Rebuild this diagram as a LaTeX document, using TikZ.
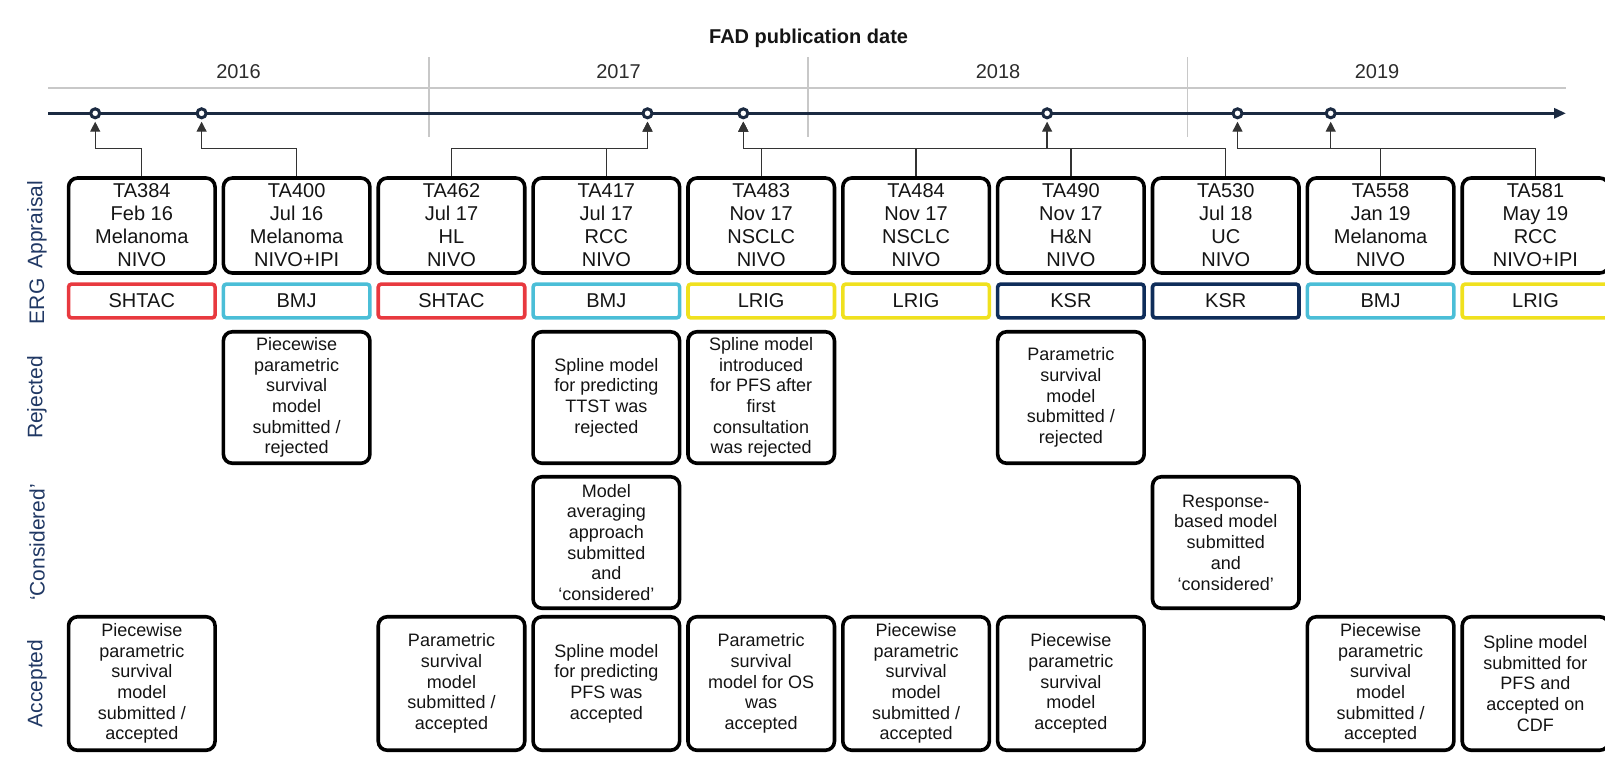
\documentclass[tikz,border=0pt]{standalone}
\usepackage{fontspec}
\setmainfont{Liberation Sans}
\usepackage{tikz}
\usetikzlibrary{positioning,calc,arrows.meta}
\usepackage{xcolor}
\definecolor{navyline}{HTML}{1B2A41}
\definecolor{labelnavy}{HTML}{203864}
\definecolor{gridgray}{HTML}{C8C8C8}
\definecolor{txt}{HTML}{141414}
\definecolor{shtac}{HTML}{E8393F}
\definecolor{bmj}{HTML}{4BBED7}
\definecolor{lrig}{HTML}{F0E11E}
\definecolor{ksr}{HTML}{0F2D5A}

\begin{document}
\begin{tikzpicture}[
    x=1pt, y=-1pt,
    appbox/.style={rectangle, draw=black, line width=3.6pt, rounded corners=9pt, minimum width=146.5pt, minimum height=95pt, inner sep=1pt, align=center, text=txt, font=\fontsize{20}{23}\selectfont},
    ergbox/.style={rectangle, line width=3.6pt, rounded corners=3pt, minimum width=146.5pt, minimum height=33.8pt, inner sep=1pt, align=center, text=txt, font=\fontsize{20}{23}\selectfont},
    modelbox/.style={rectangle, draw=black, line width=3.6pt, rounded corners=9pt, minimum width=146.5pt, minimum height=131.5pt, inner sep=1pt, align=center, text=txt, font=\fontsize{18}{20.7}\selectfont},
    rowlabel/.style={rotate=90, text=labelnavy, font=\fontsize{21}{24}\selectfont},
    yearlabel/.style={text=txt!90, font=\fontsize{20}{24}\selectfont},
    dot/.style={circle, draw=navyline, fill=white, line width=3pt, inner sep=0pt, minimum size=9pt},
    tline/.style={-{Triangle[length=12pt,width=10pt]}, line width=3pt, color=navyline},
    gridline/.style={line width=2pt, color=gridgray},
    link/.style={-{Triangle[length=10pt,width=10pt]}, line width=1.3pt, color=black!80, shorten >=2.4pt}
]
\useasboundingbox (0,0) rectangle (1605,756);

% Year axis
\node[font=\bfseries\fontsize{20}{24}\selectfont, text=txt] (title) at (808.6,38) {FAD publication date};
\draw[gridline] (48,88) -- (1566,88);
\draw[gridline, line width=1.5pt] (429,57) -- (429,137);
\draw[gridline, line width=1.5pt] (808,57) -- (808,137);
\draw[gridline, line width=1.5pt] (1187.5,57) -- (1187.5,137);
\node[yearlabel] (y2016) at (238.5,71.7) {2016};
\node[yearlabel] (y2017) at (618.5,71.7) {2017};
\node[yearlabel] (y2018) at (998,71.7) {2018};
\node[yearlabel] (y2019) at (1377,71.7) {2019};

% Timeline and markers
\coordinate (tstart) at (48,113.3);
\coordinate (tend) at (1566,113.3);
\coordinate (bus) at (0,148.3);
\draw[tline] (tstart) -- (tend);
\node[dot] (m1) at (95.2,113.3) {};
\node[dot] (m2) at (201.6,113.3) {};
\node[dot] (m3) at (647.5,113.3) {};
\node[dot] (m4) at (743.3,113.3) {};
\node[dot] (m5) at (1047.1,113.3) {};
\node[dot] (m6) at (1237.5,113.3) {};
\node[dot] (m7) at (1330.7,113.3) {};

% Row labels
\node[rowlabel] (lblapp) at (37,224.7) {Appraisal};
\node[rowlabel] (lblerg) at (37,301.3) {ERG};
\node[rowlabel] (lblrej) at (37,397.5) {Rejected};
\node[rowlabel] (lblcon) at (37,542.5) {`Considered'};
\node[rowlabel] (lblacc) at (37,683.5) {Accepted};
\coordinate (rowrej) at (0,397.5);
\coordinate (rowcon) at (0,542.5);
\coordinate (rowacc) at (0,683.5);

% Appraisal boxes
\node[appbox] (app384) at (141.8,225.5) {TA384\\Feb 16\\Melanoma\\NIVO};
\node[appbox, right=4.75pt of app384] (app400) {TA400\\Jul 16\\Melanoma\\NIVO+IPI};
\node[appbox, right=4.75pt of app400] (app462) {TA462\\Jul 17\\HL\\NIVO};
\node[appbox, right=4.75pt of app462] (app417) {TA417\\Jul 17\\RCC\\NIVO};
\node[appbox, right=4.75pt of app417] (app483) {TA483\\Nov 17\\NSCLC\\NIVO};
\node[appbox, right=4.75pt of app483] (app484) {TA484\\Nov 17\\NSCLC\\NIVO};
\node[appbox, right=4.75pt of app484] (app490) {TA490\\Nov 17\\H\&N\\NIVO};
\node[appbox, right=4.75pt of app490] (app530) {TA530\\Jul 18\\UC\\NIVO};
\node[appbox, right=4.75pt of app530] (app558) {TA558\\Jan 19\\Melanoma\\NIVO};
\node[appbox, right=4.75pt of app558] (app581) {TA581\\May 19\\RCC\\NIVO+IPI};

% ERG boxes
\node[ergbox, draw=shtac, below=7.5pt of app384] (erg384) {SHTAC};
\node[ergbox, draw=bmj, below=7.5pt of app400] (erg400) {BMJ};
\node[ergbox, draw=shtac, below=7.5pt of app462] (erg462) {SHTAC};
\node[ergbox, draw=bmj, below=7.5pt of app417] (erg417) {BMJ};
\node[ergbox, draw=lrig, below=7.5pt of app483] (erg483) {LRIG};
\node[ergbox, draw=lrig, below=7.5pt of app484] (erg484) {LRIG};
\node[ergbox, draw=ksr, below=7.5pt of app490] (erg490) {KSR};
\node[ergbox, draw=ksr, below=7.5pt of app530] (erg530) {KSR};
\node[ergbox, draw=bmj, below=7.5pt of app558] (erg558) {BMJ};
\node[ergbox, draw=lrig, below=7.5pt of app581] (erg581) {LRIG};

% Rejected
\node[modelbox] (rej400) at (app400 |- rowrej) {Piecewise\\parametric\\survival\\model\\submitted /\\rejected};
\node[modelbox] (rej417) at (app417 |- rowrej) {Spline model\\for predicting\\TTST was\\rejected};
\node[modelbox] (rej483) at (app483 |- rowrej) {Spline model\\introduced\\for PFS after\\first\\consultation\\was rejected};
\node[modelbox] (rej490) at (app490 |- rowrej) {Parametric\\survival\\model\\submitted /\\rejected};

% Considered
\node[modelbox] (con417) at (app417 |- rowcon) {Model\\averaging\\approach\\submitted\\and\\`considered'};
\node[modelbox] (con530) at (app530 |- rowcon) {Response-\\based model\\submitted\\and\\`considered'};

% Accepted
\node[modelbox, minimum height=133.5pt] (acc384) at (app384 |- rowacc) {Piecewise\\parametric\\survival\\model\\submitted /\\accepted};
\node[modelbox, minimum height=133.5pt] (acc462) at (app462 |- rowacc) {Parametric\\survival\\model\\submitted /\\accepted};
\node[modelbox, minimum height=133.5pt] (acc417) at (app417 |- rowacc) {Spline model\\for predicting\\PFS was\\accepted};
\node[modelbox, minimum height=133.5pt] (acc483) at (app483 |- rowacc) {Parametric\\survival\\model for OS\\was\\accepted};
\node[modelbox, minimum height=133.5pt] (acc484) at (app484 |- rowacc) {Piecewise\\parametric\\survival\\model\\submitted /\\accepted};
\node[modelbox, minimum height=133.5pt] (acc490) at (app490 |- rowacc) {Piecewise\\parametric\\survival\\model\\accepted};
\node[modelbox, minimum height=133.5pt] (acc558) at (app558 |- rowacc) {Piecewise\\parametric\\survival\\model\\submitted /\\accepted};
\node[modelbox, minimum height=133.5pt] (acc581) at (app581 |- rowacc) {Spline model\\submitted for\\PFS and\\accepted on\\CDF};

% Links to publication dates
\draw[link] (app384.north) -- (app384.north |- bus) -| (m1.south);
\draw[link] (app400.north) -- (app400.north |- bus) -| (m2.south);
\draw[link] (app462.north) -- (app462.north |- bus) -| (m3.south);
\draw[link] (app417.north) -- (app417.north |- bus) -| (m3.south);
\draw[link] (app483.north) -- (app483.north |- bus) -| (m4.south);
\draw[link] (app484.north) -- (app484.north |- bus) -| (m4.south);
\draw[link] (app490.north) -- (app490.north |- bus) -| (m4.south);
\draw[link] (app530.north) -- (app530.north |- bus) -| (m5.south);
\draw[link] (app558.north) -- (app558.north |- bus) -| (m6.south);
\draw[link] (app581.north) -- (app581.north |- bus) -| (m7.south);

\end{tikzpicture}
\end{document}
